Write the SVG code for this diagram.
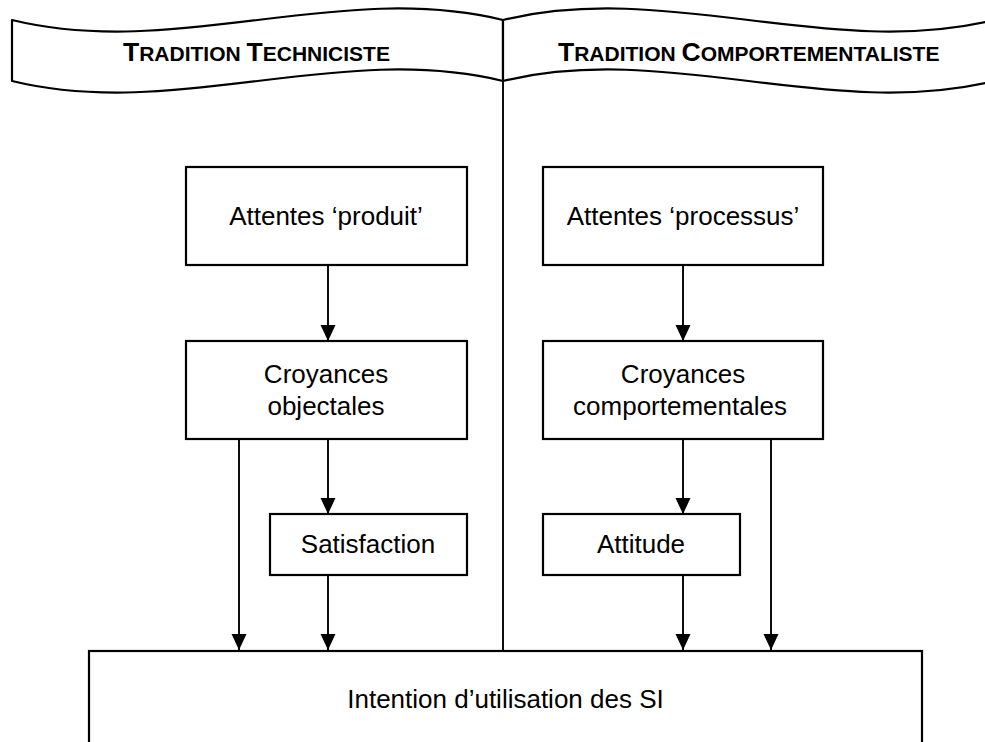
<svg xmlns="http://www.w3.org/2000/svg" width="985" height="742" viewBox="0 0 985 742">
<style>
.box{fill:#fff;stroke:#000;stroke-width:2.2}
.ban{fill:#fff;stroke:#000;stroke-width:2.2;stroke-linejoin:round}
.t{font-family:"Liberation Sans",Arial,sans-serif;font-size:26px;fill:#000;text-anchor:middle}
.h{font-family:"Liberation Sans",Arial,sans-serif;font-weight:bold;fill:#000}
.big{font-size:26.5px}
.sm{font-size:21px}
.c{fill:none;stroke:#000;stroke-width:1.9}
</style>
<defs>
<marker id="ah" markerUnits="userSpaceOnUse" markerWidth="16" markerHeight="16" viewBox="0 0 16 16" refX="16" refY="8" orient="auto">
<path d="M0,0.5 L16,8 L0,15.5 Z" fill="#000"/>
</marker>
</defs>
<rect width="985" height="742" fill="#fff"/>
<g id="banner-left">
<path class="ban" d="M12,20 C176,60 339,-20 503,20 L503,81 C339,41 176,121 12,81 Z"/>
<text class="h" x="123" y="61"><tspan class="big">T</tspan><tspan class="sm">RADITION </tspan><tspan class="big">T</tspan><tspan class="sm">ECHNICISTE</tspan></text>
</g>
<g id="banner-right">
<path class="ban" d="M503,20 C667,-20 830,60 994,20 L994,81 C830,121 667,41 503,81 Z"/>
<text class="h" x="558" y="61"><tspan class="big">T</tspan><tspan class="sm">RADITION </tspan><tspan class="big">C</tspan><tspan class="sm">OMPORTEMENTALISTE</tspan></text>
</g>
<g id="connectors">
<line class="c" x1="503" y1="20" x2="503" y2="651"/>
<line class="c" x1="328" y1="265" x2="328" y2="341" marker-end="url(#ah)"/>
<line class="c" x1="683" y1="265" x2="683" y2="341" marker-end="url(#ah)"/>
<line class="c" x1="328" y1="439" x2="328" y2="514" marker-end="url(#ah)"/>
<line class="c" x1="683" y1="439" x2="683" y2="514" marker-end="url(#ah)"/>
<line class="c" x1="239" y1="439" x2="239" y2="650" marker-end="url(#ah)"/>
<line class="c" x1="328" y1="575" x2="328" y2="650" marker-end="url(#ah)"/>
<line class="c" x1="683" y1="575" x2="683" y2="650" marker-end="url(#ah)"/>
<line class="c" x1="771" y1="439" x2="771" y2="650" marker-end="url(#ah)"/>
</g>
<g id="attentes-produit">
<rect class="box" x="186" y="167" width="281" height="98"/>
<text class="t" x="326" y="225">Attentes ‘produit’</text>
</g>
<g id="attentes-processus">
<rect class="box" x="543" y="167" width="280" height="98"/>
<text class="t" x="683" y="225">Attentes ‘processus’</text>
</g>
<g id="croyances-objectales">
<rect class="box" x="186" y="341" width="281" height="98"/>
<text class="t" x="326" y="383">Croyances</text>
<text class="t" x="326" y="415">objectales</text>
</g>
<g id="croyances-comportementales">
<rect class="box" x="543" y="341" width="280" height="98"/>
<text class="t" x="683" y="383">Croyances</text>
<text class="t" x="680" y="415">comportementales</text>
</g>
<g id="satisfaction">
<rect class="box" x="270" y="514" width="197" height="61"/>
<text class="t" x="368" y="553">Satisfaction</text>
</g>
<g id="attitude">
<rect class="box" x="543" y="514" width="197" height="61"/>
<text class="t" x="641" y="553">Attitude</text>
</g>
<g id="intention">
<rect class="box" x="89" y="651" width="833" height="110"/>
<text class="t" x="505.5" y="708">Intention d’utilisation des SI</text>
</g>
</svg>
